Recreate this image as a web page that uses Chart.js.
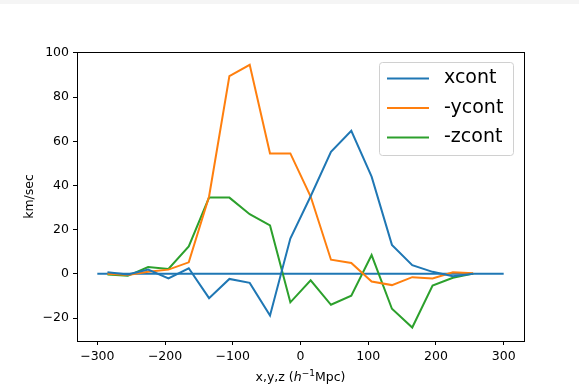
<!DOCTYPE html>
<html>
<head>
<meta charset="utf-8">
<script src="https://cdn.jsdelivr.net/npm/chart.js@4"></script>
<style>
  html, body { margin: 0; padding: 0; background: #fff; }
  #wrap { width: 579px; height: 387px; position: relative; }
  #topband { position: absolute; left: 0; top: 0; width: 579px; height: 4px; background: #f5f5f5; }
</style>
</head>
<body>
<div id="wrap">
  <canvas id="myChart" width="579" height="387"></canvas>
  <div id="topband"></div>
</div>
<script>
var positions = [-285, -255, -225, -195, -165, -135, -105, -75, -45, -15, 15, 45, 75, 105, 135, 165, 195, 225, 255]
var xcont = [0.7, -0.3, 1.9, -2.1, 2.5, -11.0, -2.3, -4.1, -18.9, 16.0, 35.1, 55.2, 64.7, 44.0, 13.1, 3.9, 0.9, -1.1, 0.0]
var ycont = [0.0, -0.5, 0.9, 1.9, 5.2, 35.0, 89.5, 94.6, 54.5, 54.5, 35.0, 6.4, 4.9, -3.5, -5.1, -1.5, -2.1, 0.7, 0.3]
var zcont = [-0.3, -0.9, 3.1, 2.2, 12.4, 34.5, 34.5, 27.0, 21.9, -12.9, -2.9, -14.0, -9.9, 8.5, -15.8, -24.3, -5.3, -1.8, 0.1]
var zeroLineX = [-300, 300]
var zeroLineY = [0, 0]
var xTicks = [-300, -200, -100, 0, 100, 200, 300]
var yTicks = [-20, 0, 20, 40, 60, 80, 100]
var seriesNames = ['xcont', '-ycont', '-zcont']

var colors = ['#1f77b4', '#ff7f0e', '#2ca02c']

var toPoints = (xs, ys) => xs.map((x, i) => ({x: x, y: ys[i]}))

Chart.defaults.font.family = 'DejaVu Sans'
Chart.defaults.font.size = 12.5
Chart.defaults.color = '#000'

var lineSet = (label, xs, ys, color) => ({
    label: label,
    data: toPoints(xs, ys),
    borderColor: color,
    backgroundColor: color,
    borderWidth: 2,
    pointRadius: 0,
    tension: 0,
    fill: false,
})

var frameAndLabels = {
    id: 'frameAndLabels',
    afterDraw(chart) {
        var ctx = chart.ctx
        var a = chart.chartArea
        ctx.save()
        ctx.strokeStyle = '#000'
        ctx.lineWidth = 1
        ctx.strokeRect(Math.round(a.left) + 0.5, Math.round(a.top) + 0.5,
            Math.round(a.right - a.left), Math.round(a.bottom - a.top))

        // y axis title
        ctx.fillStyle = '#000'
        ctx.font = '12.5px "DejaVu Sans"'
        ctx.textAlign = 'center'
        ctx.textBaseline = 'middle'
        ctx.save()
        ctx.translate(30, (a.top + a.bottom) / 2)
        ctx.rotate(-Math.PI / 2)
        ctx.fillText('km/sec', 0, 0)
        ctx.restore()

        // x axis title with italic h and superscript
        var parts = [
            {t: 'x,y,z (', f: '12.5px "DejaVu Sans"', dy: 0},
            {t: 'h', f: 'italic 12.5px "DejaVu Sans"', dy: 0},
            {t: '\u22121', f: '9px "DejaVu Sans"', dy: -5},
            {t: 'Mpc)', f: '12.5px "DejaVu Sans"', dy: 0},
        ]
        var total = 0
        parts.forEach(p => { ctx.font = p.f; p.w = ctx.measureText(p.t).width; total += p.w })
        var x = (a.left + a.right) / 2 - total / 2
        ctx.textAlign = 'left'
        ctx.textBaseline = 'alphabetic'
        parts.forEach(p => { ctx.font = p.f; ctx.fillText(p.t, x, 381 + p.dy); x += p.w })

        // legend
        var bx = 379.5, by = 62.5, bw = 134, bh = 93
        ctx.fillStyle = 'rgba(255,255,255,0.8)'
        ctx.strokeStyle = '#d0d0d0'
        ctx.beginPath()
        ctx.roundRect(bx, by, bw, bh, 3)
        ctx.fill()
        ctx.stroke()
        ctx.font = '19px "DejaVu Sans"'
        ctx.textBaseline = 'middle'
        seriesNames.forEach((name, i) => {
            var yy = 78.5 + i * 29.5
            ctx.strokeStyle = colors[i]
            ctx.lineWidth = 2
            ctx.beginPath()
            ctx.moveTo(387, yy)
            ctx.lineTo(429, yy)
            ctx.stroke()
            ctx.fillStyle = '#000'
            ctx.fillText(name, 444, yy)
        })
        ctx.restore()
    }
}

var axisStyle = (ticks, min, max) => ({
    type: 'linear',
    min: min,
    max: max,
    afterBuildTicks: (scale) => { scale.ticks = ticks.map(v => ({value: v})) },
    grid: {display: true, drawOnChartArea: false, drawTicks: true, tickLength: 4, color: '#000', tickWidth: 1},
    border: {display: true, color: '#000', width: 1},
    ticks: {padding: 4, color: '#000', font: {size: 12.5}, callback: (v) => String(v).replace('-', '\u2212')},
})

var xAxis = axisStyle(xTicks, -330, 330)
xAxis.afterFit = (scale) => { scale.height = 46 }
xAxis.ticks.maxRotation = 0
var yAxis = axisStyle(yTicks, -30.4, 100.4)
yAxis.afterFit = (scale) => { scale.width = 77 }

var ctx = document.getElementById('myChart').getContext('2d')
var chart = new Chart(ctx, {
    type: 'line',
    data: {
        datasets: [
            lineSet(seriesNames[0], positions, xcont, colors[0]),
            lineSet(seriesNames[1], positions, ycont, colors[1]),
            lineSet(seriesNames[2], positions, zcont, colors[2]),
            lineSet('zero', zeroLineX, zeroLineY, colors[0]),
        ],
    },
    options: {
        responsive: false,
        animation: false,
        parsing: true,
        layout: {padding: {left: 0, top: 52, right: 55, bottom: 0}},
        plugins: {legend: {display: false}, tooltip: {enabled: false}},
        scales: {x: xAxis, y: yAxis},
    },
    plugins: [frameAndLabels],
})
</script>
</body>
</html>
